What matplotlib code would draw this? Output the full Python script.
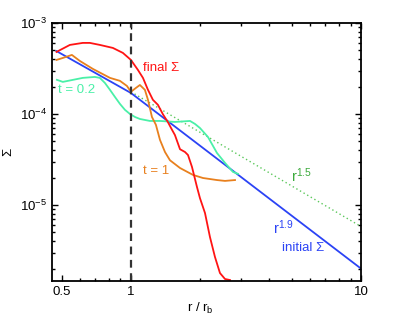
import matplotlib
matplotlib.use("Agg")
import matplotlib.pyplot as plt
from matplotlib.ticker import LogLocator, NullFormatter, FixedLocator, FixedFormatter

plt.rcParams['font.family'] = ['Liberation Sans', 'DejaVu Sans']
plt.rcParams['mathtext.fontset'] = 'custom'
plt.rcParams['mathtext.rm'] = 'Liberation Sans'
plt.rcParams['mathtext.it'] = 'Liberation Sans:italic'

# ---- data ----
final_r = [0.475, 0.543, 0.618, 0.663, 0.733, 0.835, 0.923, 1.0, 1.072, 1.128, 1.186, 1.246,
           1.310, 1.378, 1.449, 1.51, 1.553, 1.634, 1.718, 1.770, 1.842, 1.936, 1.995, 2.098,
           2.205, 2.318, 2.437, 2.563, 2.694]
final_s = [4.80e-4, 5.73e-4, 6.03e-4, 6.03e-4, 5.73e-4, 5.31e-4, 4.68e-4, 3.92e-4, 3.05e-4,
           2.49e-4, 1.84e-4, 1.43e-4, 1.26e-4, 9.9e-5, 8.1e-5, 6.67e-5, 5.87e-5, 4.1e-5,
           3.82e-5, 3.54e-5, 2.62e-5, 1.58e-5, 1.19e-5, 8.17e-6, 4.45e-6, 2.69e-6, 1.79e-6,
           1.54e-6, 1.50e-6]

t1_r = [0.475, 0.506, 0.554, 0.600, 0.684, 0.811, 0.896, 0.961, 1.0, 1.051, 1.094, 1.150,
        1.186, 1.234, 1.284, 1.337, 1.406, 1.478, 1.634, 1.861, 2.056, 2.365, 2.563, 2.833]
t1_s = [3.92e-4, 4.12e-4, 4.45e-4, 3.82e-4, 3.12e-4, 2.49e-4, 2.31e-4, 2.03e-4, 1.75e-4,
        1.93e-4, 2.08e-4, 1.84e-4, 1.43e-4, 9.27e-5, 7.6e-5, 5.2e-5, 3.82e-5, 3.1e-5,
        2.55e-5, 2.14e-5, 1.98e-5, 1.88e-5, 1.84e-5, 1.88e-5]

t02_r = [0.477, 0.506, 0.618, 0.697, 0.733, 0.771, 0.811, 0.852, 0.896, 0.942, 0.990, 1.041,
         1.094, 1.209, 1.337, 1.553, 1.806, 1.898, 1.995, 2.162, 2.365, 2.563, 2.775, 2.919]
t02_s = [2.37e-4, 2.25e-4, 2.49e-4, 2.55e-4, 2.49e-4, 2.19e-4, 1.84e-4, 1.54e-4, 1.29e-4,
         1.11e-4, 1.0e-4, 9.27e-5, 8.81e-5, 8.38e-5, 8.38e-5, 8.17e-5, 8.38e-5, 7.77e-5,
         7.01e-5, 5.58e-5, 3.73e-5, 2.90e-5, 2.31e-5, 2.2e-5]

init_r = [0.475, 1.0, 10.0]
init_s = [4.9e-4, 1.7e-4, 2.0e-6]

pl15_r = [1.0, 10.0]
pl15_s = [1.75e-4, 5.8e-6]

xticks = [0.5, 1, 10]
xticklabels = ['0.5', '1', '10']
yticks = [1e-5, 1e-4, 1e-3]

# ---- figure ----
fig = plt.figure(figsize=(3.99, 3.18), dpi=100)
ax = fig.add_axes([0.130, 0.116, 0.775, 0.812])

c_red = '#FF1414'
c_blue = '#2B43F5'
c_orange = '#E8801E'
c_aqua = '#4AF0A8'
c_green = '#5CC85C'

ax.plot(pl15_r, pl15_s, color=c_green, lw=1.0, ls=(0, (1, 2)))
ax.plot(init_r, init_s, color=c_blue, lw=1.3)
ax.plot(t02_r, t02_s, color=c_aqua, lw=1.3)
ax.plot(t1_r, t1_s, color=c_orange, lw=1.3)
ax.plot(final_r, final_s, color=c_red, lw=1.3)
ax.axvline(1.0, color='#333333', lw=1.6, ls=(0, (3.5, 2.5)))

ax.set_xscale('log')
ax.set_yscale('log')
ax.set_xlim(0.4535, 10)
ax.set_ylim(1.46e-6, 1e-3)

ax.xaxis.set_major_locator(FixedLocator(xticks))
ax.xaxis.set_major_formatter(FixedFormatter(xticklabels))
ax.xaxis.set_minor_locator(LogLocator(base=10, subs=range(2, 10)))
ax.xaxis.set_minor_formatter(NullFormatter())
ax.yaxis.set_major_locator(FixedLocator(yticks))
ax.yaxis.set_minor_locator(LogLocator(base=10, subs=range(2, 10)))
ax.yaxis.set_minor_formatter(NullFormatter())

ax.tick_params(which='both', direction='in', top=True, right=True, labelsize=9.5, color='black')
ax.tick_params(which='major', length=4, width=1)
ax.tick_params(which='minor', length=2, width=1)
for s in ax.spines.values():
    s.set_linewidth(1.3)

ax.set_xlabel('r / r$_\\mathrm{b}$', fontsize=9.5)
ax.xaxis.set_label_coords(0.479, -0.075)
ax.set_ylabel('Σ', fontsize=9.5)
ax.yaxis.set_label_coords(-0.123, 0.5)

ax.text(1.128, 3.2e-4, 'final Σ', color=c_red, fontsize=9.5, va='center', ha='left')
ax.text(0.482, 1.84e-4, 't = 0.2', color=c_aqua, fontsize=9.5, va='center', ha='left')
ax.text(1.128, 2.37e-5, 't = 1', color=c_orange, fontsize=9.5, va='center', ha='left')
ax.text(4.96, 2.08e-5, 'r$^{1.5}$', color='#3CAA3C', fontsize=10.5, va='center', ha='left')
ax.text(4.14, 5.58e-6, 'r$^{1.9}$', color=c_blue, fontsize=10.5, va='center', ha='left')
ax.text(4.53, 3.36e-6, 'initial Σ', color=c_blue, fontsize=9.5, va='center', ha='left')

fig.savefig('out.png', dpi=100)
